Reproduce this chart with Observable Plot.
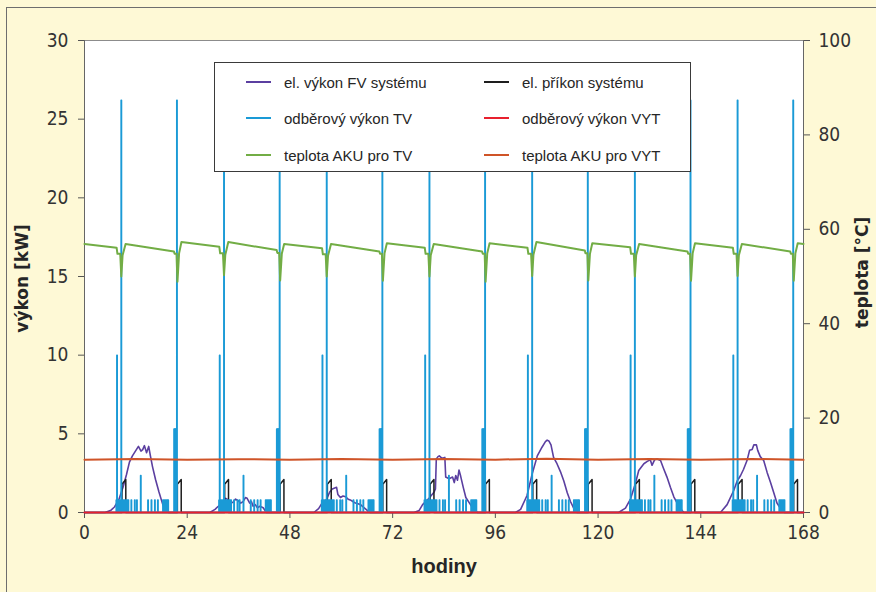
<!DOCTYPE html>
<html><head><meta charset="utf-8">
<script src="https://cdn.jsdelivr.net/npm/d3@7"></script>
<script src="https://cdn.jsdelivr.net/npm/@observablehq/plot@0.6"></script>
<style>
body{margin:0;background:#fef9d6;}
#wrap{position:relative;width:876px;height:592px;background:#fef9d6;overflow:hidden;}
#border{position:absolute;left:6px;top:7px;right:-4px;bottom:-4px;border-left:1.5px solid #6e6e6e;border-top:1.5px solid #6e6e6e;pointer-events:none;}
#legend{position:absolute;left:214px;top:62px;width:477px;height:110px;background:#fff;border:1px solid #3a3a3a;box-sizing:border-box;font:15px "Liberation Sans",Arial,sans-serif;color:#262626;}
.item{position:absolute;display:flex;align-items:center;height:20px;margin-top:-10px;white-space:nowrap;}
.sw{width:25px;height:0;border-top:2px solid;margin-right:13px;}
</style></head><body>
<div id="wrap"><div id="chart"></div><div id="legend"></div><div id="border"></div></div>
<script>
// ---------- data ----------
const xTicks = [0, 24, 48, 72, 96, 120, 144, 168];
const powerTicks = [0, 5, 10, 15, 20, 25, 30];
const tempTicks = [0, 20, 40, 60, 80, 100];

const seriesNames = ["el. výkon FV systému", "el. příkon systému", "odběrový výkon TV",
                     "odběrový výkon VYT", "teplota AKU pro TV", "teplota AKU pro VYT"];
const seriesColors = ["#5b3fa0", "#1e1e1e", "#1a9ad6", "#e8202e", "#72ad45", "#cf5428"];

// el. výkon FV systému [kW] : [hour, kW]
const pvDay1 = [[4.8,0],[6.2,0.15],[7.0,0.35],[8.0,0.8],[9.0,1.6],[9.8,2.4],[10.5,3.2],[11.2,3.6],[11.9,3.9],[12.6,4.2],[13.2,3.9],[13.6,4.0],[14.0,4.25],[14.5,3.8],[15.0,4.2],[15.4,3.6],[15.9,2.9],[16.6,2.1],[17.4,1.3],[18.3,0.5],[19.1,0.1],[19.7,0]];
const pvDay2 = [[29.3,0],[30.5,0.2],[31.2,0.38],[32.2,0.6],[33.0,0.9],[33.6,0.8],[34.2,0.6],[34.7,0.65],[35.3,0.85],[35.9,0.75],[36.5,0.6],[37.1,0.7],[37.6,0.95],[38.0,0.9],[38.6,0.6],[39.0,0.7],[39.4,0.4],[39.9,0.5],[40.4,0.3],[41.0,0.4],[41.75,0.3],[42.5,0]];
const pvDay3 = [[53.6,0],[54.7,0.25],[55.5,0.6],[56.5,0.8],[57.3,1.3],[57.9,1.5],[58.9,1.6],[59.2,1.15],[59.8,0.95],[60.4,1.05],[61.0,1.0],[61.6,0.85],[62.1,0.8],[62.7,0.7],[63.3,0.6],[63.9,0.55],[64.5,0.5],[65.1,0.35],[65.65,0.23],[66.4,0.05],[66.8,0]];
const pvDay4 = [[77.0,0],[78.2,0.13],[79.0,0.5],[80.5,0.9],[81.7,1.3],[82.0,1.5],[82.2,3.4],[82.6,3.55],[82.9,3.6],[83.3,3.5],[83.6,3.45],[84.2,3.5],[84.4,2.25],[85.2,2.15],[86.0,2.25],[86.4,1.9],[86.75,2.35],[87.15,2.05],[87.5,2.7],[87.9,2.3],[88.5,1.6],[89.1,0.95],[90.3,0.45],[91.4,0.1],[91.8,0]];
const pvDay5 = [[100.7,0],[101.9,0.2],[103.4,1.08],[104.6,2.45],[105.8,3.6],[106.9,4.15],[107.7,4.5],[108.1,4.6],[108.5,4.55],[109.0,4.3],[109.6,3.5],[110.4,3.1],[111.2,2.6],[112.0,2.0],[112.8,1.25],[113.55,0.7],[114.3,0.28],[115.1,0]];
const pvDay6 = [[124.8,0],[126.4,0.28],[127.6,0.87],[128.7,1.82],[129.5,2.67],[130.7,3.1],[131.5,3.25],[132.2,3.35],[132.6,3.0],[133.2,3.35],[133.8,3.4],[134.6,3.3],[135.3,2.8],[136.1,2.25],[136.9,1.6],[137.7,1.0],[138.85,0.4],[140.0,0]];
const pvDay7 = [[148.6,0],[150.15,0.5],[151.7,1.4],[152.5,2.0],[153.3,2.35],[154.0,2.75],[154.8,3.3],[155.4,3.95],[156.0,4.0],[156.4,4.3],[157.0,4.3],[157.3,3.95],[157.9,3.55],[158.7,3.3],[159.5,2.55],[160.3,1.9],[161.0,1.3],[161.8,0.6],[163.0,0.1],[163.6,0]];

// odběrový výkon TV — daily tapping profile (hour of day, kW), same every day
const drawHour = [7.4,7.55,7.65,7.9,8.15,8.4,8.55,8.7,8.95,9.2,9.45,9.7,9.95,10.2,10.9,11.7,12.2,13.1,14.8,15.6,16.4,17.1,18.3,18.55,18.8,19.05,19.3,19.5,20.9,21.05,21.2,21.35,21.55];
const drawKW   = [0.8,10.0,0.8,0.8,0.8,0.8,26.2,0.8,0.8,0.8,0.8,0.8,0.8,0.8,0.8,0.8,0.8,2.35,0.8,0.8,0.8,0.8,0.8,0.8,0.8,0.8,0.8,0.8,5.3,5.3,5.3,5.3,26.2];

// el. příkon systému — daily heater pulses (start hour, end hour, kW at start, kW at end)
const heatStart = [8.75, 21.7];
const heatEnd = [9.65, 22.6];
const heatLowKW = [1.8, 1.8];
const heatHighKW = [2.1, 2.1];

// teplota AKU pro TV [°C], per day (7 days)
const tvStartTemp = 56.9, tvEndTemp = 56.9;
const tvMorningPre  = [56.1, 56.3, 56.0, 56.1, 56.1, 56.2, 56.1];
const tvMorningStep = [54.8, 54.9, 54.7, 54.8, 54.8, 54.8, 54.8];
const tvMorningDip  = [50.0, 50.3, 50.0, 50.0, 50.1, 50.0, 50.1];
const tvMorningMid  = [54.5, 54.6, 54.4, 54.5, 54.6, 54.5, 54.5];
const tvMorningPeak = [56.9, 57.3, 56.9, 56.9, 57.3, 56.9, 56.9];
const tvEveningPre  = [55.3, 55.6, 55.3, 55.3, 55.5, 55.3, 55.3];
const tvEveningStep = [54.8, 55.0, 54.8, 54.8, 54.9, 54.8, 54.8];
const tvEveningDip  = [48.9, 49.15, 49.1, 48.9, 49.15, 49.1, 49.1];
const tvEveningMid  = [54.9, 54.8, 54.9, 54.9, 54.8, 54.9, 54.9];
const tvEveningPeak = [57.3, 56.9, 57.05, 57.05, 57.05, 57.05, 57.05];

// teplota AKU pro VYT [°C]
const vytHours = [0,12,24,36,48,60,72,84,96,108,120,132,144,156,168];
const vytTemp  = [11.2,11.35,11.15,11.3,11.2,11.35,11.2,11.35,11.2,11.4,11.2,11.35,11.2,11.35,11.15];

// odběrový výkon VYT [kW]
const vytPowerHours = [0, 168];
const vytPowerKW = [0, 0];

// ---------- build tables ----------
const K = 30 / 100; // right axis (°C) mapped onto left axis (kW)
const days = d3.range(7);

const pv = [[0,0], ...pvDay1, ...pvDay2, ...pvDay3, ...pvDay4, ...pvDay5, ...pvDay6, ...pvDay7, [168,0]]
  .map(([t, v]) => ({t, v}));

const w = 0.1;
const tv = [{t:0, v:0}];
days.forEach(d => drawHour.forEach((h, i) => {
  const t = 24 * d + h;
  tv.push({t, v:0}, {t, v:drawKW[i]}, {t:t + w, v:drawKW[i]}, {t:t + w, v:0});
}));
tv.push({t:168, v:0});

const heat = [{t:0, v:0}];
days.forEach(d => heatStart.forEach((s, i) => {
  const a = 24 * d + s, b = 24 * d + heatEnd[i];
  heat.push({t:a, v:0}, {t:a, v:heatLowKW[i]}, {t:b, v:heatHighKW[i]}, {t:b, v:0});
}));
heat.push({t:168, v:0});

const tvTemp = [{t:0, v:tvStartTemp}];
days.forEach(d => {
  const o = 24 * d;
  tvTemp.push(
    {t:o+7.5, v:tvMorningPre[d]}, {t:o+7.7, v:tvMorningStep[d]}, {t:o+8.35, v:tvMorningStep[d]},
    {t:o+8.6, v:tvMorningDip[d]}, {t:o+8.9, v:tvMorningMid[d]}, {t:o+9.6, v:tvMorningPeak[d]},
    {t:o+20.9, v:tvEveningPre[d]}, {t:o+21.05, v:tvEveningStep[d]}, {t:o+21.5, v:tvEveningStep[d]},
    {t:o+21.72, v:tvEveningDip[d]}, {t:o+22.1, v:tvEveningMid[d]}, {t:o+22.65, v:tvEveningPeak[d]});
});
tvTemp.push({t:168, v:tvEndTemp});

const vyt = vytHours.map((t, i) => ({t, v:vytTemp[i]}));
const vytP = vytPowerHours.map((t, i) => ({t, v:vytPowerKW[i]}));

const tickFont = "'Liberation Sans Narrow','Arial Narrow','DejaVu Sans Condensed','Liberation Sans',sans-serif";

const chart = Plot.plot({
  width: 876, height: 592,
  marginLeft: 84, marginRight: 73, marginTop: 40, marginBottom: 80,
  style: {background: "transparent", color: "#333", fontFamily: tickFont, fontSize: "19px", overflow: "visible"},
  x: {domain: [0, 168]},
  y: {domain: [0, 30]},
  marks: [
    Plot.frame({fill: "white", stroke: "#8c8c8c"}),
    Plot.ruleX([0, 168], {stroke: "#666", strokeWidth: 1}),
    Plot.axisX({ticks: xTicks, tickSize: 6, tickPadding: 7, label: null, stroke: "#555", fontSize: 19, fontFamily: tickFont, color: "#333"}),
    Plot.axisY({ticks: powerTicks, tickSize: 6, tickPadding: 10, label: null, stroke: "#555", fontSize: 19, fontFamily: tickFont}),
    Plot.axisY({anchor: "right", ticks: tempTicks.map(t => t * K), tickFormat: d => Math.round(d / K), tickSize: 6, tickPadding: 9, label: null, stroke: "#555", fontSize: 19, fontFamily: tickFont}),
    Plot.line(pv, {x: "t", y: "v", stroke: seriesColors[0], strokeWidth: 1.6}),
    Plot.line(heat, {x: "t", y: "v", stroke: seriesColors[1], strokeWidth: 1.5}),
    Plot.line(tv, {x: "t", y: "v", stroke: seriesColors[2], strokeWidth: 1.5}),
    Plot.line(vytP, {x: "t", y: "v", stroke: seriesColors[3], strokeWidth: 2.2}),
    Plot.line(tvTemp, {x: "t", y: d => d.v * K, stroke: seriesColors[4], strokeWidth: 2}),
    Plot.line(vyt, {x: "t", y: d => d.v * K, stroke: seriesColors[5], strokeWidth: 2}),
    Plot.text(["hodiny"], {text: d => d, frameAnchor: "bottom", lineAnchor: "middle", textAnchor: "middle", dy: 54, fontWeight: "bold", fontSize: 20, fontFamily: "'Liberation Sans',Arial,sans-serif", fill: "#262626"}),
    Plot.text(["výkon [kW]"], {text: d => d, frameAnchor: "left", textAnchor: "middle", lineAnchor: "middle", dx: -62, dy: 2, rotate: -90, fontWeight: "bold", fontSize: 17, fontFamily: "'DejaVu Sans',Verdana,sans-serif", fill: "#262626"}),
    Plot.text(["teplota [°C]"], {text: d => d, frameAnchor: "right", textAnchor: "middle", lineAnchor: "middle", dx: 59, dy: -4, rotate: -90, fontWeight: "bold", fontSize: 17, fontFamily: "'DejaVu Sans',Verdana,sans-serif", fill: "#262626"})
  ]
});
document.getElementById("chart").appendChild(chart);

// legend (inside plot area, as in the reference)
const legend = document.getElementById("legend");
const rowsY = [19, 55, 92];
const colX = [31, 269];
const order = [[0, 1], [2, 3], [4, 5]];
order.forEach((row, r) => row.forEach((si, c) => {
  const it = document.createElement("div");
  it.className = "item";
  it.style.left = colX[c] + "px";
  it.style.top = rowsY[r] + "px";
  const sw = document.createElement("span");
  sw.className = "sw";
  sw.style.borderTopColor = seriesColors[si];
  const tx = document.createElement("span");
  tx.textContent = seriesNames[si];
  it.append(sw, tx);
  legend.appendChild(it);
}));
</script></body></html>
